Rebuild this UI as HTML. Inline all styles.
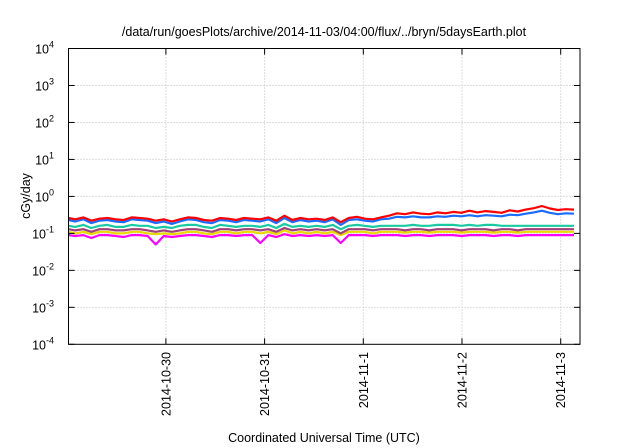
<!DOCTYPE html>
<html><head><meta charset="utf-8">
<style>
body{margin:0;background:#fff;}
svg{display:block;font-family:"Liberation Sans",Arial,sans-serif;}
</style></head>
<body>
<svg id="chart" width="640" height="448" viewBox="0 0 640 448">
<rect width="640" height="448" fill="#fff"/>
<text x="324" y="36" font-size="12.5" text-anchor="middle" fill="#000">/data/run/goesPlots/archive/2014-11-03/04:00/flux/../bryn/5daysEarth.plot</text>
<g id="grid"></g>
<g id="series"></g>
<rect x="68.5" y="48.5" width="511.5" height="295.8" fill="none" stroke="#000" stroke-width="1"/>
<g id="axes"></g>
<text x="0" y="0" transform="translate(30,196) rotate(-90)" font-size="12.5" text-anchor="middle">cGy/day</text>
<text x="324" y="442" font-size="12.5" text-anchor="middle">Coordinated Universal Time (UTC)</text>
</svg>
<script>
const yExps=[-4,-3,-2,-1,0,1,2,3,4];
const xTickLabels=["2014-10-30","2014-10-31","2014-11-1","2014-11-2","2014-11-3"];
const xTickDays=[1,2,3,4,5];
const seriesColors=["#ff0000","#1a6cff","#1ac9a0","#a0427a","#e8d800","#ff00ff"];
const red=[0.26,0.24,0.27,0.22,0.25,0.26,0.24,0.23,0.27,0.26,0.25,0.22,0.24,0.21,0.24,0.27,0.26,0.23,0.22,0.26,0.25,0.23,0.26,0.25,0.24,0.27,0.22,0.30,0.23,0.26,0.24,0.25,0.23,0.27,0.20,0.26,0.28,0.25,0.24,0.27,0.30,0.35,0.33,0.37,0.34,0.33,0.37,0.35,0.38,0.36,0.41,0.37,0.40,0.38,0.36,0.42,0.39,0.44,0.48,0.55,0.47,0.43,0.45,0.44];
const blue=[0.23,0.21,0.24,0.19,0.22,0.23,0.21,0.20,0.24,0.23,0.22,0.19,0.21,0.18,0.21,0.24,0.23,0.20,0.19,0.23,0.22,0.20,0.23,0.22,0.21,0.24,0.19,0.26,0.20,0.23,0.21,0.22,0.20,0.24,0.17,0.23,0.24,0.22,0.21,0.24,0.25,0.28,0.27,0.29,0.27,0.27,0.29,0.28,0.30,0.29,0.31,0.29,0.31,0.30,0.29,0.32,0.31,0.34,0.37,0.41,0.36,0.33,0.35,0.34];
const teal=[0.16,0.15,0.17,0.14,0.16,0.17,0.15,0.15,0.17,0.16,0.16,0.14,0.15,0.14,0.16,0.17,0.17,0.15,0.14,0.17,0.16,0.15,0.16,0.16,0.15,0.17,0.14,0.18,0.15,0.16,0.15,0.16,0.15,0.17,0.13,0.16,0.17,0.16,0.15,0.16,0.16,0.16,0.16,0.17,0.16,0.16,0.17,0.17,0.17,0.16,0.17,0.16,0.17,0.17,0.16,0.16,0.16,0.16,0.16,0.16,0.16,0.16,0.16,0.16];
const purple=[0.13,0.12,0.13,0.11,0.13,0.13,0.12,0.12,0.13,0.13,0.12,0.11,0.12,0.11,0.12,0.13,0.13,0.12,0.11,0.13,0.13,0.12,0.13,0.13,0.12,0.13,0.11,0.14,0.12,0.13,0.12,0.13,0.12,0.13,0.10,0.13,0.13,0.13,0.12,0.13,0.13,0.13,0.12,0.13,0.13,0.12,0.13,0.13,0.13,0.12,0.13,0.13,0.13,0.12,0.13,0.13,0.12,0.13,0.13,0.13,0.13,0.13,0.13,0.13];
const yellow=[0.11,0.10,0.11,0.095,0.11,0.11,0.10,0.10,0.11,0.11,0.10,0.095,0.10,0.095,0.10,0.11,0.11,0.10,0.095,0.11,0.11,0.10,0.11,0.11,0.10,0.11,0.095,0.12,0.10,0.11,0.10,0.11,0.10,0.11,0.09,0.11,0.11,0.11,0.10,0.11,0.11,0.11,0.105,0.11,0.11,0.105,0.11,0.11,0.11,0.105,0.11,0.11,0.11,0.105,0.11,0.11,0.105,0.11,0.11,0.11,0.11,0.11,0.11,0.11];
const magenta=[0.09,0.085,0.09,0.075,0.09,0.09,0.085,0.08,0.09,0.09,0.085,0.05,0.085,0.08,0.085,0.09,0.09,0.085,0.08,0.09,0.09,0.085,0.09,0.09,0.055,0.09,0.08,0.095,0.085,0.09,0.085,0.09,0.085,0.09,0.055,0.09,0.09,0.09,0.085,0.09,0.09,0.09,0.085,0.09,0.09,0.085,0.09,0.09,0.09,0.085,0.09,0.09,0.09,0.085,0.09,0.09,0.085,0.09,0.09,0.09,0.09,0.09,0.09,0.09];
const allSeries=[red,blue,teal,purple,yellow,magenta];
const NS="http://www.w3.org/2000/svg";
const L=68.5,R=580,T=48.5,B=344.3,dayPx=98.7,x0=67.2,dayStep=0.0815;
function xs(d){return x0+d*dayPx;}
function ys(v){return B-(Math.log10(v)+4)*(B-T)/8;}
const grid=document.getElementById('grid'),axes=document.getElementById('axes'),ser=document.getElementById('series');
function mk(tag,attrs,parent){const e=document.createElementNS(NS,tag);for(const k in attrs)e.setAttribute(k,attrs[k]);parent.appendChild(e);return e;}
yExps.forEach(p=>{
  const y=ys(Math.pow(10,p));
  if(p>-4&&p<4){const g=mk('line',{x1:L,x2:R,y1:y,y2:y,stroke:'#bbb','stroke-dasharray':'1,2'},grid);
  
  }
  const t=mk('line',{x1:L,x2:L+6,y1:y,y2:y,stroke:'#000'},axes);
  
  
  const t2=mk('line',{x1:R-6,x2:R,y1:y,y2:y,stroke:'#000'},axes);
  
  
  const tx=mk('text',{x:54,y:y+5,'font-size':'12.5','text-anchor':'end'},axes);
  
  
  tx.textContent='10';
  const s=mk('tspan',{dy:-6,'font-size':'9'},tx);s.textContent=String(p);
});
xTickDays.forEach((d,i)=>{
  const x=xs(d);
  const g=mk('line',{x1:x,x2:x,y1:T,y2:B,stroke:'#bbb','stroke-dasharray':'1,2'},grid);
  
  
  const t=mk('line',{x1:x,x2:x,y1:B-6,y2:B,stroke:'#000'},axes);
  
  
  const t2=mk('line',{x1:x,x2:x,y1:T,y2:T+6,stroke:'#000'},axes);
  
  
  const tx=mk('text',{transform:`translate(${x+4.5},352) rotate(-90)`,'font-size':'12.5','text-anchor':'end'},axes);
  
  
  tx.textContent=xTickLabels[i];
});
const names=['series-red','series-blue','series-teal','series-purple','series-yellow','series-magenta'];
for(let k=allSeries.length-1;k>=0;k--){
  const vals=allSeries[k];
  const pts=vals.map((v,i)=>{let x=xs(i*dayStep);x=Math.min(Math.max(x,L),R);return x.toFixed(1)+','+ys(v).toFixed(1);}).join(' ');
  const pl=mk('polyline',{points:pts,fill:'none',stroke:seriesColors[k],'stroke-width':2.2,'stroke-linejoin':'round'},ser);
  
  
}
</script>
</body></html>
